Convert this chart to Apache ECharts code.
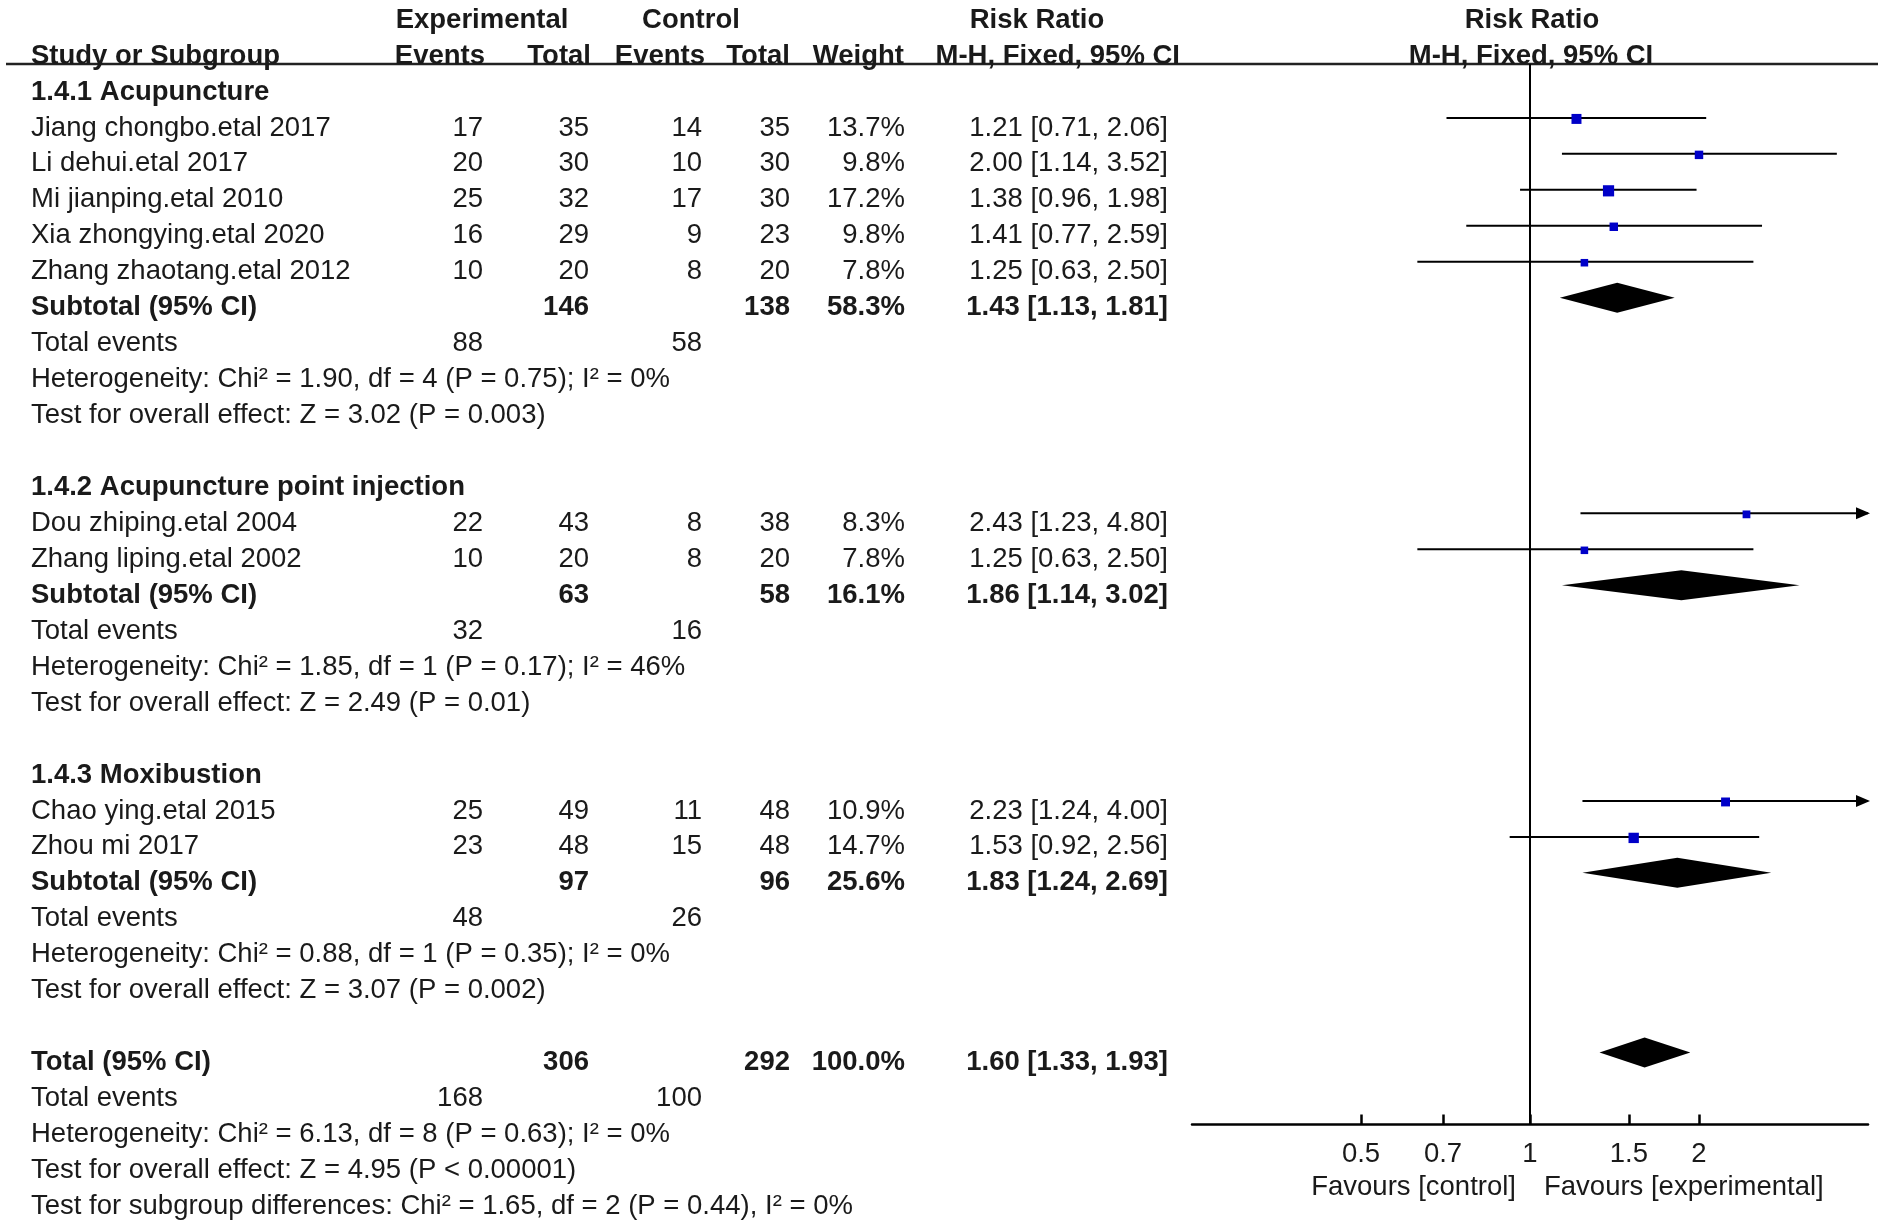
<!doctype html>
<html lang="en">
<head>
<meta charset="UTF-8">
<title>Risk Ratio forest plot</title>
<script src="https://cdn.jsdelivr.net/npm/echarts@6/dist/echarts.min.js"></script>
<style>
  html, body { margin: 0; padding: 0; background: #fff; }
  #main { width: 1902px; height: 1221px; }
</style>
</head>
<body>
<div id="main"></div>
<script type="text/javascript">
    // 数据
    var groupNames = ['1.4.1 Acupuncture', '1.4.2 Acupuncture point injection', '1.4.3 Moxibustion'];
    var studyNames = ['Jiang chongbo.etal 2017', 'Li dehui.etal 2017', 'Mi jianping.etal 2010', 'Xia zhongying.etal 2020',
        'Zhang zhaotang.etal 2012', 'Dou zhiping.etal 2004', 'Zhang liping.etal 2002', 'Chao ying.etal 2015', 'Zhou mi 2017'];
    var studyGroup = [0, 0, 0, 0, 0, 1, 1, 2, 2];
    var expEvents = [17, 20, 25, 16, 10, 22, 10, 25, 23];
    var expTotal = [35, 30, 32, 29, 20, 43, 20, 49, 48];
    var ctlEvents = [14, 10, 17, 9, 8, 8, 8, 11, 15];
    var ctlTotal = [35, 30, 30, 23, 20, 38, 20, 48, 48];
    var studyWeight = [13.7, 9.8, 17.2, 9.8, 7.8, 8.3, 7.8, 10.9, 14.7];
    var studyRR = [1.21, 2.00, 1.38, 1.41, 1.25, 2.43, 1.25, 2.23, 1.53];
    var studyLow = [0.71, 1.14, 0.96, 0.77, 0.63, 1.23, 0.63, 1.24, 0.92];
    var studyHigh = [2.06, 3.52, 1.98, 2.59, 2.50, 4.80, 2.50, 4.00, 2.56];

    var subExpTotal = [146, 63, 97];
    var subCtlTotal = [138, 58, 96];
    var subWeight = [58.3, 16.1, 25.6];
    var subRR = [1.43, 1.86, 1.83];
    var subLow = [1.13, 1.14, 1.24];
    var subHigh = [1.81, 3.02, 2.69];
    var subExpEvents = [88, 32, 48];
    var subCtlEvents = [58, 16, 26];
    var subHet = ['Chi\u00b2 = 1.90, df = 4 (P = 0.75); I\u00b2 = 0%', 'Chi\u00b2 = 1.85, df = 1 (P = 0.17); I\u00b2 = 46%', 'Chi\u00b2 = 0.88, df = 1 (P = 0.35); I\u00b2 = 0%'];
    var subTest = ['Z = 3.02 (P = 0.003)', 'Z = 2.49 (P = 0.01)', 'Z = 3.07 (P = 0.002)'];

    var totalExpTotal = 306, totalCtlTotal = 292, totalWeight = 100.0;
    var totalRR = 1.60, totalLow = 1.33, totalHigh = 1.93;
    var totalExpEvents = 168, totalCtlEvents = 100;
    var totalHet = 'Chi\u00b2 = 6.13, df = 8 (P = 0.63); I\u00b2 = 0%';
    var totalTest = 'Z = 4.95 (P < 0.00001)';
    var subgroupDiff = 'Chi\u00b2 = 1.65, df = 2 (P = 0.44), I\u00b2 = 0%';

    var tickValues = [0.5, 0.7, 1, 1.5, 2];

    // 列位置（像素）
    var COL = {name: 31, ee: 483, et: 589, ce: 702, ct: 790, w: 905, ci: 1168};
    var FONT = '"Liberation Sans", Arial, sans-serif';
    var FS = '27.5px ';
    var TXT = '#1a1a1a';

    function ciText(r, l, h) {
        return r.toFixed(2) + ' [' + l.toFixed(2) + ', ' + h.toFixed(2) + ']';
    }

    // 构造表格行和图形数据
    var textRows = [];   // [row, cells]
    var ciData = [];     // [rr, low, high, row, weight, kind]

    function addRow(row, cells) { textRows.push({row: row, cells: cells}); }

    addRow(-2, [
        {x: 482, t: 'Experimental', a: 'center', b: 1},
        {x: 691, t: 'Control', a: 'center', b: 1},
        {x: 1037, t: 'Risk Ratio', a: 'center', b: 1},
        {x: 1532, t: 'Risk Ratio', a: 'center', b: 1}
    ]);
    addRow(-1, [
        {x: COL.name, t: 'Study or Subgroup', a: 'left', b: 1},
        {x: 485, t: 'Events', a: 'right', b: 1},
        {x: 591, t: 'Total', a: 'right', b: 1},
        {x: 705, t: 'Events', a: 'right', b: 1},
        {x: 790, t: 'Total', a: 'right', b: 1},
        {x: 904, t: 'Weight', a: 'right', b: 1},
        {x: 1180, t: 'M-H, Fixed, 95% CI', a: 'right', b: 1},
        {x: 1531, t: 'M-H, Fixed, 95% CI', a: 'center', b: 1}
    ]);

    var r = 0;
    for (var g = 0; g < groupNames.length; g++) {
        addRow(r++, [{x: COL.name, t: groupNames[g], a: 'left', b: 1}]);
        for (var i = 0; i < studyNames.length; i++) {
            if (studyGroup[i] !== g) continue;
            addRow(r, [
                {x: COL.name, t: studyNames[i], a: 'left'},
                {x: COL.ee, t: String(expEvents[i]), a: 'right'},
                {x: COL.et, t: String(expTotal[i]), a: 'right'},
                {x: COL.ce, t: String(ctlEvents[i]), a: 'right'},
                {x: COL.ct, t: String(ctlTotal[i]), a: 'right'},
                {x: COL.w, t: studyWeight[i].toFixed(1) + '%', a: 'right'},
                {x: COL.ci, t: ciText(studyRR[i], studyLow[i], studyHigh[i]), a: 'right'}
            ]);
            ciData.push([studyRR[i], studyLow[i], studyHigh[i], r, studyWeight[i], 0]);
            r++;
        }
        addRow(r, [
            {x: COL.name, t: 'Subtotal (95% CI)', a: 'left', b: 1},
            {x: COL.et, t: String(subExpTotal[g]), a: 'right', b: 1},
            {x: COL.ct, t: String(subCtlTotal[g]), a: 'right', b: 1},
            {x: COL.w, t: subWeight[g].toFixed(1) + '%', a: 'right', b: 1},
            {x: COL.ci, t: ciText(subRR[g], subLow[g], subHigh[g]), a: 'right', b: 1}
        ]);
        ciData.push([subRR[g], subLow[g], subHigh[g], r, subWeight[g], 1]);
        r++;
        addRow(r++, [
            {x: COL.name, t: 'Total events', a: 'left'},
            {x: COL.ee, t: String(subExpEvents[g]), a: 'right'},
            {x: COL.ce, t: String(subCtlEvents[g]), a: 'right'}
        ]);
        addRow(r++, [{x: COL.name, t: 'Heterogeneity: ' + subHet[g], a: 'left'}]);
        addRow(r++, [{x: COL.name, t: 'Test for overall effect: ' + subTest[g], a: 'left'}]);
        r++;
    }
    addRow(r, [
        {x: COL.name, t: 'Total (95% CI)', a: 'left', b: 1},
        {x: COL.et, t: String(totalExpTotal), a: 'right', b: 1},
        {x: COL.ct, t: String(totalCtlTotal), a: 'right', b: 1},
        {x: COL.w, t: totalWeight.toFixed(1) + '%', a: 'right', b: 1},
        {x: COL.ci, t: ciText(totalRR, totalLow, totalHigh), a: 'right', b: 1}
    ]);
    ciData.push([totalRR, totalLow, totalHigh, r, totalWeight, 1]);
    r++;
    addRow(r++, [
        {x: COL.name, t: 'Total events', a: 'left'},
        {x: COL.ee, t: String(totalExpEvents), a: 'right'},
        {x: COL.ce, t: String(totalCtlEvents), a: 'right'}
    ]);
    addRow(r++, [{x: COL.name, t: 'Heterogeneity: ' + totalHet, a: 'left'}]);
    addRow(r++, [{x: COL.name, t: 'Test for overall effect: ' + totalTest, a: 'left'}]);
    addRow(r++, [{x: COL.name, t: 'Test for subgroup differences: ' + subgroupDiff, a: 'left'}]);

    var textData = textRows.map(function (d) { return [1, d.row]; });

    function renderText(params, api) {
        var item = textRows[params.dataIndex];
        var y = api.coord([1, item.row])[1] + 10;
        return {
            type: 'group',
            children: item.cells.map(function (c) {
                return {
                    type: 'text',
                    style: {
                        x: c.x, y: y, text: c.t,
                        align: c.a, verticalAlign: 'middle',
                        font: (c.b ? 'bold ' : '') + FS + FONT,
                        fill: TXT
                    }
                };
            })
        };
    }

    function renderCI(params, api) {
        var row = api.value(3);
        var kind = api.value(5);
        var pMid = api.coord([api.value(0), row]);
        var pLo = api.coord([api.value(1), row]);
        var pHi = api.coord([api.value(2), row]);
        var xMin = params.coordSys.x, xMax = params.coordSys.x + params.coordSys.width;
        var y = pMid[1];
        if (kind === 1) {
            return {
                type: 'polygon',
                shape: {points: [[pLo[0], y], [pMid[0], y - 15], [pHi[0], y], [pMid[0], y + 15]]},
                style: {fill: '#000'}
            };
        }
        var x1 = Math.max(pLo[0], xMin), x2 = Math.min(pHi[0], xMax);
        var children = [{
            type: 'line',
            shape: {x1: x1, y1: y, x2: x2, y2: y},
            style: {stroke: '#000', lineWidth: 2}
        }];
        if (pHi[0] >= xMax - 0.5) {
            children.push({
                type: 'polygon',
                shape: {points: [[xMax + 2, y], [xMax - 12, y - 6], [xMax - 12, y + 6]]},
                style: {fill: '#000'}
            });
        }
        var s = 2.7 * Math.sqrt(api.value(4));
        children.push({
            type: 'rect',
            shape: {x: pMid[0] - s / 2, y: y - s / 2 + 1, width: s, height: s},
            style: {fill: '#0000c8'}
        });
        return {type: 'group', children: children};
    }

    var myChart = echarts.init(document.getElementById('main'));
    myChart.setOption({
        backgroundColor: '#fff',
        animation: false,
        grid: {left: 1192, right: 34, top: 64, bottom: 96.5},
        xAxis: {
            type: 'log',
            logBase: 10,
            position: 'bottom',
            min: 0.25,
            max: 4,
            splitLine: {show: false},
            axisLine: {onZero: false, lineStyle: {color: '#000', width: 2.5}},
            axisTick: {inside: true, length: 10, lineStyle: {color: '#000', width: 2.5}, customValues: tickValues},
            axisLabel: {
                customValues: tickValues,
                margin: 16,
                color: TXT,
                fontSize: 27.5,
                fontFamily: FONT,
                formatter: function (v) { return String(parseFloat(Number(v).toPrecision(3))); }
            }
        },
        yAxis: {type: 'value', inverse: true, min: -0.5, max: 29, show: false},
        series: [
            {
                type: 'custom',
                name: 'ci',
                renderItem: renderCI,
                encode: {x: [0, 1, 2], y: 3},
                data: ciData,
                clip: false,
                z: 3,
                markLine: {
                    silent: true,
                    symbol: 'none',
                    label: {show: false},
                    lineStyle: {color: '#000', width: 2, type: 'solid'},
                    data: [{xAxis: 1}]
                }
            },
            {
                type: 'custom',
                name: 'table',
                renderItem: renderText,
                encode: {x: 0, y: 1},
                data: textData,
                clip: false,
                silent: true
            }
        ]
    });

    // 顶部横线和底部说明文字
    var p1 = myChart.convertToPixel({xAxisIndex: 0, yAxisIndex: 0}, [1, 0]);
    myChart.setOption({
        graphic: [
            {
                type: 'line',
                shape: {x1: 6, y1: 64, x2: 1878, y2: 64},
                style: {stroke: '#222', lineWidth: 2.5}
            },
            {
                type: 'text',
                style: {x: p1[0] - 14, y: 1187, text: 'Favours [control]', align: 'right', verticalAlign: 'middle',
                    font: FS + FONT, fill: TXT}
            },
            {
                type: 'text',
                style: {x: p1[0] + 14, y: 1187, text: 'Favours [experimental]', align: 'left', verticalAlign: 'middle',
                    font: FS + FONT, fill: TXT}
            }
        ]
    });

    window.onresize = function () { myChart.resize(); };
</script>
</body>
</html>
